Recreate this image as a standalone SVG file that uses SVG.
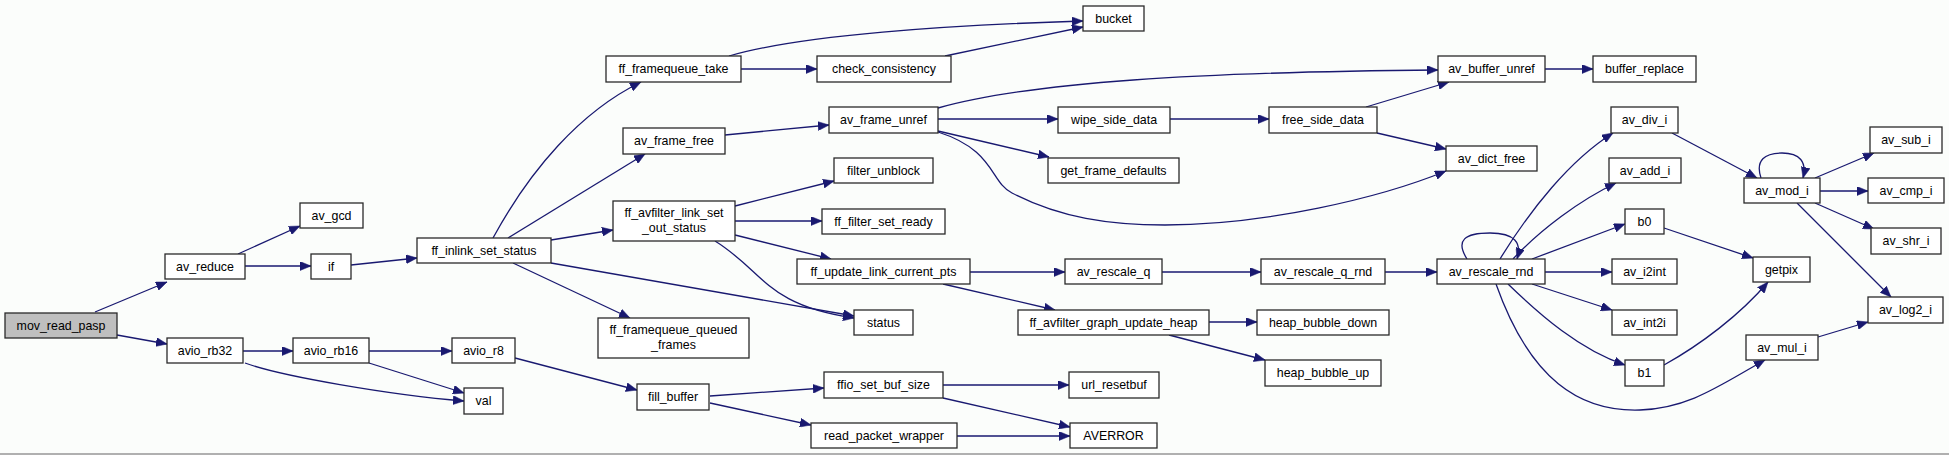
<svg xmlns="http://www.w3.org/2000/svg" width="1949" height="455" viewBox="0 0 1949 455">
<style>
.n rect{fill:#ffffff;stroke:#2a2a2a;stroke-width:1.3}
.n.root rect{fill:#bfbfbf}
.n text{font-family:"Liberation Sans",Arial,sans-serif;font-size:12.4px;fill:#000;text-anchor:middle}
.e path{fill:none;stroke:#191970;stroke-width:1.3}
</style>
<defs>
<marker id="ah" markerUnits="userSpaceOnUse" markerWidth="12" markerHeight="9" refX="11" refY="4.5" orient="auto">
<path d="M0,0 L11,4.5 L0,9 z" fill="#191970" stroke="#191970" stroke-width="0.5"/>
</marker>
</defs>
<rect x="0" y="0" width="1949" height="455" fill="#fbfdfb"/>
<rect x="0" y="453" width="1949" height="2" fill="#b0b0b0"/>
<g class="e" marker-end="url(#ah)">
<path d="M95,312 L167,282"/>
<path d="M117,335 L167,344"/>
<path d="M238,254 L300,226"/>
<path d="M245,266 L311,266"/>
<path d="M351,265 L417,258"/>
<path d="M493,238 C530,170 580,112 641,82"/>
<path d="M508,238 L645,154"/>
<path d="M551,240 L613,230"/>
<path d="M551,263 L854,316"/>
<path d="M513,263 L630,318"/>
<path d="M735,206 L834,181"/>
<path d="M735,221 L822,221"/>
<path d="M735,235 L831,259"/>
<path d="M715,241 C765,272 765,305 854,318"/>
<path d="M741,69 L817,69"/>
<path d="M729,56 C800,35 950,25 1083,21"/>
<path d="M945,56 L1083,27"/>
<path d="M725,135 L829,125"/>
<path d="M938,108 C1030,82 1200,72 1438,70"/>
<path d="M938,119 L1058,119"/>
<path d="M938,131 L1049,157"/>
<path d="M938,132 C995,150 990,182 1012,193 C1060,218 1110,225 1165,225 C1265,225 1380,198 1446,171"/>
<path d="M1170,119 L1269,119"/>
<path d="M1366,107 L1449,82"/>
<path d="M1377,133 L1446,149"/>
<path d="M1545,69 L1593,69"/>
<path d="M970,272 L1065,272"/>
<path d="M943,284 L1055,310"/>
<path d="M1162,272 L1261,272"/>
<path d="M1385,272 L1437,272"/>
<path d="M1209,322 L1257,322"/>
<path d="M1169,335 L1265,360"/>
<path d="M1467,259 C1455,240 1465,233 1490,233 C1515,233 1522,243 1517,259"/>
<path d="M1500,259 C1530,210 1570,160 1613,133"/>
<path d="M1513,259 C1540,230 1580,200 1616,183"/>
<path d="M1532,259 L1625,224"/>
<path d="M1545,272 L1612,272"/>
<path d="M1532,284 L1612,310"/>
<path d="M1508,284 C1540,315 1580,350 1625,365"/>
<path d="M1496,284 C1530,380 1580,412 1640,410 C1690,408 1720,385 1765,360"/>
<path d="M1672,133 L1757,178"/>
<path d="M1761,178 C1755,160 1765,153 1782,153 C1800,153 1807,162 1803,178"/>
<path d="M1815,178 L1874,153"/>
<path d="M1820,191 L1868,191"/>
<path d="M1815,203 L1874,229"/>
<path d="M1797,203 L1891,297"/>
<path d="M1664,228 L1753,258"/>
<path d="M1664,365 C1700,345 1740,315 1768,282"/>
<path d="M1818,337 L1868,322"/>
<path d="M243,351 L293,351"/>
<path d="M245,363 C280,376 390,395 464,401"/>
<path d="M369,351 L452,351"/>
<path d="M369,363 L464,393"/>
<path d="M515,358 L637,390"/>
<path d="M710,396 L824,388"/>
<path d="M710,403 L811,425"/>
<path d="M943,385 L1069,385"/>
<path d="M943,398 L1070,427"/>
<path d="M957,436 L1070,436"/>
</g>
<g id="mov_read_pasp" class="n root"><rect x="5" y="313" width="112" height="25"/><text x="61" y="330">mov_read_pasp</text></g>
<g id="av_reduce" class="n"><rect x="165" y="254" width="80" height="25"/><text x="205" y="271">av_reduce</text></g>
<g id="av_gcd" class="n"><rect x="300" y="203" width="63" height="25"/><text x="331.5" y="220">av_gcd</text></g>
<g id="if" class="n"><rect x="311" y="254" width="40" height="25"/><text x="331" y="271">if</text></g>
<g id="ff_inlink_set_status" class="n"><rect x="417" y="238" width="134" height="25"/><text x="484" y="255">ff_inlink_set_status</text></g>
<g id="avio_rb32" class="n"><rect x="167" y="338" width="76" height="25"/><text x="205" y="355">avio_rb32</text></g>
<g id="avio_rb16" class="n"><rect x="293" y="338" width="76" height="25"/><text x="331" y="355">avio_rb16</text></g>
<g id="avio_r8" class="n"><rect x="452" y="338" width="63" height="25"/><text x="483.5" y="355">avio_r8</text></g>
<g id="val" class="n"><rect x="464" y="388" width="39" height="26"/><text x="483.5" y="405">val</text></g>
<g id="ff_framequeue_take" class="n"><rect x="606" y="56" width="135" height="26"/><text x="673.5" y="73">ff_framequeue_take</text></g>
<g id="av_frame_free" class="n"><rect x="623" y="128" width="102" height="26"/><text x="674" y="145">av_frame_free</text></g>
<g id="ff_avfilter_link_set_out_status" class="n"><rect x="613" y="201" width="122" height="40"/><text x="674" y="217">ff_avfilter_link_set</text><text x="674" y="232">_out_status</text></g>
<g id="ff_framequeue_queued_frames" class="n"><rect x="598" y="318" width="151" height="40"/><text x="673.5" y="334">ff_framequeue_queued</text><text x="673.5" y="349">_frames</text></g>
<g id="status" class="n"><rect x="854" y="310" width="59" height="25"/><text x="883.5" y="327">status</text></g>
<g id="fill_buffer" class="n"><rect x="637" y="384" width="72" height="26"/><text x="673" y="401">fill_buffer</text></g>
<g id="bucket" class="n"><rect x="1083" y="6" width="61" height="25"/><text x="1113.5" y="23">bucket</text></g>
<g id="check_consistency" class="n"><rect x="817" y="56" width="134" height="26"/><text x="884" y="73">check_consistency</text></g>
<g id="av_frame_unref" class="n"><rect x="829" y="107" width="109" height="26"/><text x="883.5" y="124">av_frame_unref</text></g>
<g id="filter_unblock" class="n"><rect x="834" y="158" width="99" height="25"/><text x="883.5" y="175">filter_unblock</text></g>
<g id="ff_filter_set_ready" class="n"><rect x="822" y="209" width="123" height="25"/><text x="883.5" y="226">ff_filter_set_ready</text></g>
<g id="ff_update_link_current_pts" class="n"><rect x="797" y="259" width="173" height="25"/><text x="883.5" y="276">ff_update_link_current_pts</text></g>
<g id="ffio_set_buf_size" class="n"><rect x="824" y="372" width="119" height="26"/><text x="883.5" y="389">ffio_set_buf_size</text></g>
<g id="read_packet_wrapper" class="n"><rect x="811" y="423" width="146" height="25"/><text x="884" y="440">read_packet_wrapper</text></g>
<g id="wipe_side_data" class="n"><rect x="1058" y="107" width="112" height="26"/><text x="1114" y="124">wipe_side_data</text></g>
<g id="get_frame_defaults" class="n"><rect x="1048" y="158" width="131" height="25"/><text x="1113.5" y="175">get_frame_defaults</text></g>
<g id="av_rescale_q" class="n"><rect x="1065" y="259" width="97" height="25"/><text x="1113.5" y="276">av_rescale_q</text></g>
<g id="ff_avfilter_graph_update_heap" class="n"><rect x="1018" y="310" width="191" height="25"/><text x="1113.5" y="327">ff_avfilter_graph_update_heap</text></g>
<g id="url_resetbuf" class="n"><rect x="1069" y="372" width="90" height="26"/><text x="1114" y="389">url_resetbuf</text></g>
<g id="AVERROR" class="n"><rect x="1070" y="423" width="87" height="25"/><text x="1113.5" y="440">AVERROR</text></g>
<g id="free_side_data" class="n"><rect x="1269" y="107" width="108" height="26"/><text x="1323" y="124">free_side_data</text></g>
<g id="av_rescale_q_rnd" class="n"><rect x="1261" y="259" width="124" height="25"/><text x="1323" y="276">av_rescale_q_rnd</text></g>
<g id="heap_bubble_down" class="n"><rect x="1257" y="310" width="132" height="25"/><text x="1323" y="327">heap_bubble_down</text></g>
<g id="heap_bubble_up" class="n"><rect x="1265" y="360" width="116" height="26"/><text x="1323" y="377">heap_bubble_up</text></g>
<g id="av_buffer_unref" class="n"><rect x="1438" y="56" width="107" height="26"/><text x="1491.5" y="73">av_buffer_unref</text></g>
<g id="av_dict_free" class="n"><rect x="1446" y="146" width="91" height="25"/><text x="1491.5" y="163">av_dict_free</text></g>
<g id="av_rescale_rnd" class="n"><rect x="1437" y="259" width="108" height="25"/><text x="1491" y="276">av_rescale_rnd</text></g>
<g id="buffer_replace" class="n"><rect x="1593" y="56" width="103" height="26"/><text x="1644.5" y="73">buffer_replace</text></g>
<g id="av_div_i" class="n"><rect x="1611" y="107" width="67" height="26"/><text x="1644.5" y="124">av_div_i</text></g>
<g id="av_add_i" class="n"><rect x="1609" y="158" width="72" height="25"/><text x="1645" y="175">av_add_i</text></g>
<g id="b0" class="n"><rect x="1625" y="209" width="39" height="25"/><text x="1644.5" y="226">b0</text></g>
<g id="av_i2int" class="n"><rect x="1612" y="259" width="65" height="25"/><text x="1644.5" y="276">av_i2int</text></g>
<g id="av_int2i" class="n"><rect x="1612" y="310" width="65" height="25"/><text x="1644.5" y="327">av_int2i</text></g>
<g id="b1" class="n"><rect x="1625" y="360" width="39" height="26"/><text x="1644.5" y="377">b1</text></g>
<g id="av_mod_i" class="n"><rect x="1744" y="178" width="76" height="25"/><text x="1782" y="195">av_mod_i</text></g>
<g id="getpix" class="n"><rect x="1753" y="257" width="57" height="25"/><text x="1781.5" y="274">getpix</text></g>
<g id="av_mul_i" class="n"><rect x="1746" y="335" width="72" height="25"/><text x="1782" y="352">av_mul_i</text></g>
<g id="av_sub_i" class="n"><rect x="1870" y="127" width="72" height="26"/><text x="1906" y="144">av_sub_i</text></g>
<g id="av_cmp_i" class="n"><rect x="1868" y="178" width="76" height="25"/><text x="1906" y="195">av_cmp_i</text></g>
<g id="av_shr_i" class="n"><rect x="1871" y="228" width="70" height="26"/><text x="1906" y="245">av_shr_i</text></g>
<g id="av_log2_i" class="n"><rect x="1868" y="297" width="75" height="26"/><text x="1905.5" y="314">av_log2_i</text></g>
</svg>
